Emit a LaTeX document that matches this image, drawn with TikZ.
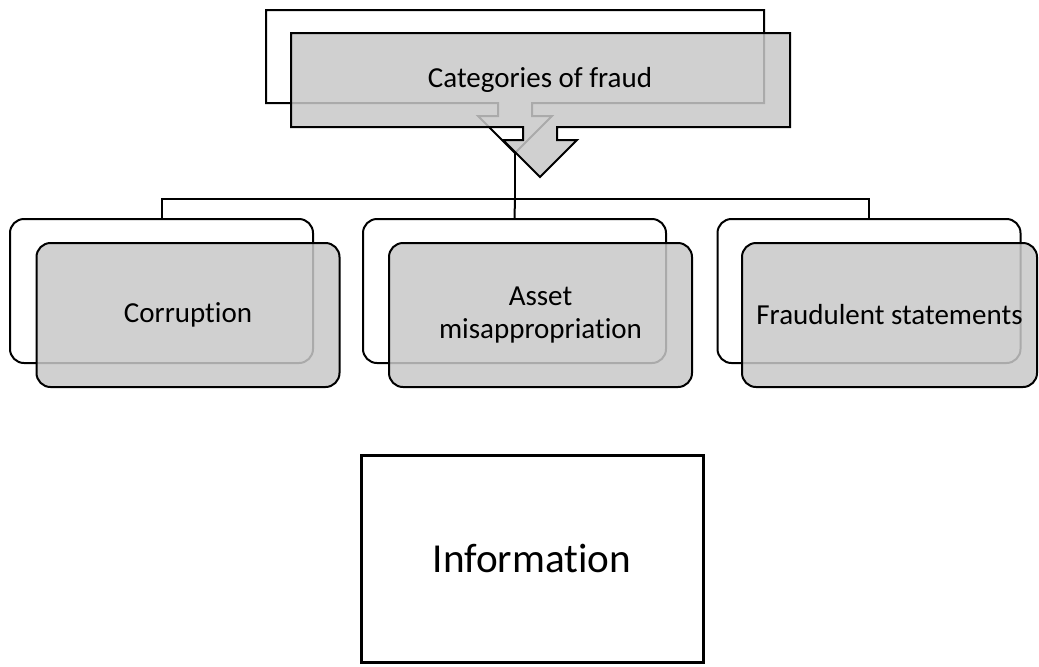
\documentclass[tikz,border=0pt]{standalone}
\usepackage{fontspec}
\setmainfont{Carlito}[Ligatures=NoCommon]
\begin{document}
\begin{tikzpicture}[x=0.5pt,y=-0.5pt,
  line join=miter,
  boxgray/.style={fill={rgb,255:red,200;green,200;blue,200}, fill opacity=0.85, text opacity=1},
  backbox/.style={draw, line width=1pt, fill=white, rounded corners=7pt,
    minimum width=151.5pt, minimum height=72pt, inner sep=0pt},
  frontbox/.style={backbox, boxgray, font=\fontsize{14.5}{16.5}\selectfont, align=center},
  link/.style={draw, line width=1pt}]
\useasboundingbox (0,0) rectangle (1039,666);

% header block with its downward arrow, shadow copy behind
\draw[line width=1pt, fill=white]
  (266,10) -- (764,10) -- (764,103) -- (532,103) -- (532,116) -- (552,116)
  -- (515,153) -- (478,116) -- (498,116) -- (498,103) -- (266,103) -- cycle;
\coordinate (tip) at (515,153);
\draw[line width=1pt, boxgray]
  (291,33) -- (790,33) -- (790,127) -- (557,127) -- (557,140) -- (577,140)
  -- (540,177) -- (503,140) -- (523,140) -- (523,127) -- (291,127) -- cycle;
\node[font=\fontsize{14.5}{16.5}\selectfont] (cat) at (540,80) {Categories of fraud};

% three category boxes
\node[backbox] (cb) at (161.5,291) {};
\node[frontbox] (c) at (188,315) {Corruption};
\node[backbox] (ab) at (514.5,291) {};
\node[frontbox] (a) at (540.5,315) {Asset\\misappropriation};
\node[backbox] (fb) at (869,291) {};
\node[frontbox, minimum width=147.5pt] (f) at (889.5,315) {Fraudulent statements};

% tree connectors
\coordinate (bus) at (515,199);
\draw[link] (tip) -- (bus);
\draw[link] (cb.north) |- (bus) -| (fb.north);
\draw[link] (bus) -- (ab.north);

% information box
\node[draw, line width=1.5pt, minimum width=171pt, minimum height=103.5pt,
  font=\fontsize{20.6}{24}\selectfont] (info) at (532,558.5) {Information};
\end{tikzpicture}
\end{document}
